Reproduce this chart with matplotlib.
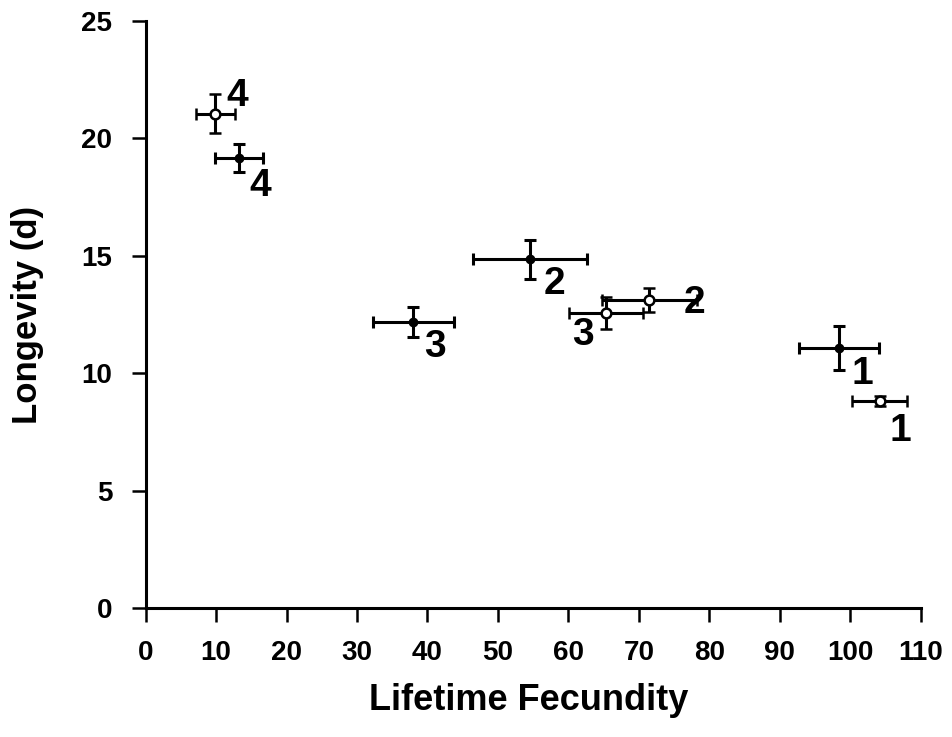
import matplotlib.pyplot as plt
import numpy as np

plt.rcParams['font.family'] = ['Liberation Sans', 'DejaVu Sans']
plt.rcParams['font.weight'] = 'bold'

# filled symbols
fill_x = [13.3, 38.0, 54.5, 98.4]
fill_y = [19.17, 12.18, 14.86, 11.07]
fill_xerr = [3.4, 5.7, 8.1, 5.7]
fill_yerr = [0.6, 0.62, 0.83, 0.94]
fill_lab = ['4', '3', '2', '1']

# open symbols
open_x = [9.9, 65.4, 71.5, 104.2]
open_y = [21.04, 12.56, 13.12, 8.82]
open_xerr = [2.8, 5.25, 6.7, 3.9]
open_yerr = [0.83, 0.68, 0.53, 0.23]
open_lab = ['4', '3', '2', '1']

fig = plt.figure(figsize=(9.52, 7.37), dpi=100)
ax = fig.add_axes([0.153, 0.175, 0.814, 0.7965])

ax.errorbar(fill_x, fill_y, xerr=fill_xerr, yerr=fill_yerr, fmt='o', color='black',
            ms=6, mfc='black', mec='black', elinewidth=2.2, capsize=4.5, capthick=2.2)
ax.errorbar(open_x, open_y, xerr=open_xerr, yerr=open_yerr, fmt='o', color='black',
            ms=7, mfc='white', mec='black', mew=1.8, elinewidth=2.2, capsize=4.5,
            capthick=2.2, zorder=3)

# label offsets (points)
fill_off = [(7, -20), (8, -18), (10, -18), (9, -19)]
open_off = [(8, 13), (-25, -16), (25, -2), (7, -22)]
for x, y, t, o in zip(fill_x, fill_y, fill_lab, fill_off):
    ax.annotate(t, (x, y), xytext=o, textcoords='offset points', fontsize=28,
                fontweight='bold', ha='left', va='center')
for x, y, t, o in zip(open_x, open_y, open_lab, open_off):
    ax.annotate(t, (x, y), xytext=o, textcoords='offset points', fontsize=28,
                fontweight='bold', ha='left', va='center')

ax.set_xlim(0, 110)
ax.set_ylim(0, 25)
ax.set_xticks(np.arange(0, 111, 10))
ax.set_yticks(np.arange(0, 26, 5))
for s in ['top', 'right']:
    ax.spines[s].set_visible(False)
for s in ['left', 'bottom']:
    ax.spines[s].set_linewidth(2.2)
ax.tick_params(direction='out', length=10, width=1.8, labelsize=20)
ax.tick_params(axis='x', pad=13)
ax.tick_params(axis='y', pad=14)
for lbl in ax.get_xticklabels() + ax.get_yticklabels():
    lbl.set_fontweight('bold')

ax.set_xlabel('Lifetime Fecundity', fontsize=26, fontweight='bold')
ax.set_ylabel('Longevity (d)', fontsize=25, fontweight='bold')
ax.xaxis.set_label_coords(0.494, -0.157)
ax.yaxis.set_label_coords(-0.152, 0.5)
ax.xaxis.label.set_va('center')
ax.yaxis.label.set_va('center')

fig.savefig('out.png', dpi=100)
